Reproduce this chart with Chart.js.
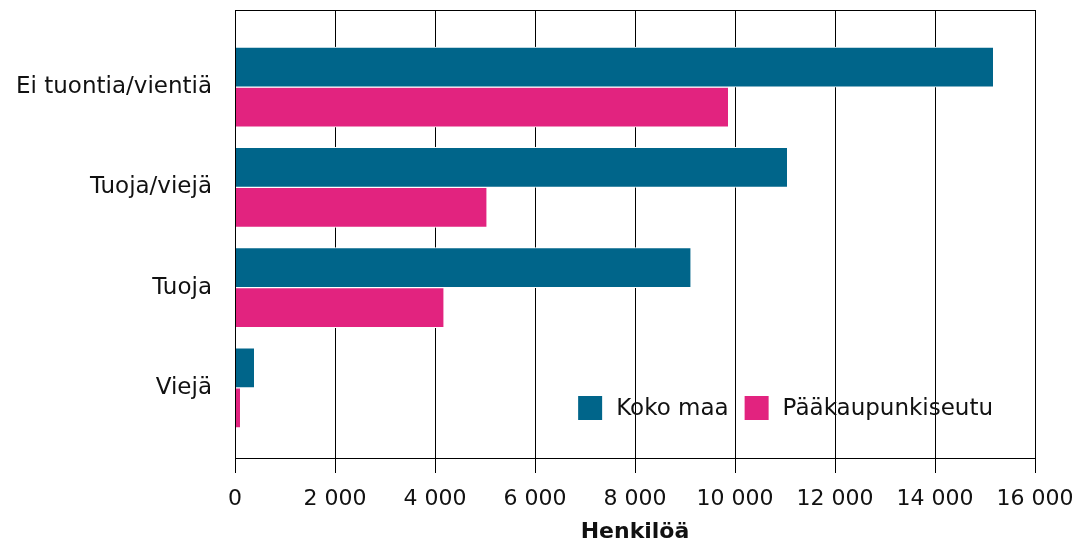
<!DOCTYPE html>
<html>
<head>
<meta charset="utf-8">
<script src="https://cdn.jsdelivr.net/npm/chart.js@4"></script>
<style>
  html, body { margin: 0; padding: 0; background: #fff; }
  #wrap { width: 1091px; height: 545px; }
</style>
</head>
<body>
<div id="wrap"><canvas id="myChart" width="1091" height="545"></canvas></div>
<script>
// data
const categories = ['Ei tuontia/vientiä', 'Tuoja/viejä', 'Tuoja', 'Viejä'];
const kokoMaa = [15160, 11040, 9110, 380];
const paakaupunkiseutu = [9860, 5030, 4170, 100];
const xTicks = [0, 2000, 4000, 6000, 8000, 10000, 12000, 14000, 16000];

const teal = '#00658a';
const pink = '#e2237f';
const font = 'DejaVu Sans';

function fmt(v) {
    return String(v).replace(/\B(?=(\d{3})+(?!\d))/g, ' ');
}

// box around the plot
const frame = {
    id: 'frame',
    afterDraw(chart) {
        const a = chart.chartArea;
        const c = chart.ctx;
        c.save();
        c.strokeStyle = '#000';
        c.lineWidth = 1;
        c.strokeRect(Math.round(a.left) + 0.5, Math.round(a.top) + 0.5,
            Math.round(a.right - a.left), Math.round(a.bottom - a.top));
        c.restore();
    }
};

// legend inside the plot, bottom right
const innerLegend = {
    id: 'innerLegend',
    afterDraw(chart) {
        const a = chart.chartArea;
        const c = chart.ctx;
        c.save();
        c.font = '23px "' + font + '"';
        c.textBaseline = 'middle';
        const items = chart.data.datasets.map(d => ({ label: d.label, color: d.backgroundColor }));
        let total = 0;
        items.forEach((it, i) => {
            it.w = c.measureText(it.label).width;
            total += 24 + 14 + it.w + (i < items.length - 1 ? 16 : 0);
        });
        let x = a.right - 42 - total;
        const y = a.bottom - 62;
        items.forEach(it => {
            c.fillStyle = it.color;
            c.fillRect(x, y, 24, 24);
            x += 24 + 14;
            c.fillStyle = '#111';
            c.fillText(it.label, x, y + 13);
            x += it.w + 16;
        });
        c.restore();
    }
};

const ctx = document.getElementById('myChart').getContext('2d');
const myChart = new Chart(ctx, {
    type: 'bar',
    data: {
        datasets: [
            {
                label: 'Koko maa',
                data: kokoMaa.map((v, i) => ({ x: v, y: i })),
                backgroundColor: teal,
                borderColor: '#fff',
                borderWidth: { top: 1, bottom: 1, left: 0, right: 0 },
                barThickness: 40
            },
            {
                label: 'Pääkaupunkiseutu',
                data: paakaupunkiseutu.map((v, i) => ({ x: v, y: i })),
                backgroundColor: pink,
                borderColor: '#fff',
                borderWidth: { top: 1, bottom: 1, left: 0, right: 0 },
                barThickness: 40
            }
        ]
    },
    options: {
        indexAxis: 'y',
        responsive: false,
        animation: false,
        layout: { padding: { top: 10, right: 56, left: 0, bottom: 0 } },
        scales: {
            x: {
                type: 'linear',
                position: 'bottom',
                min: 0,
                max: 16000,
                afterBuildTicks: s => { s.ticks = xTicks.map(v => ({ value: v })); },
                afterFit: s => { s.height = 87; s.paddingLeft = 0; s.paddingRight = 0; },
                grid: { color: '#000', lineWidth: 1, tickLength: 15 },
                border: { color: '#000' },
                ticks: {
                    color: '#111',
                    font: { family: font, size: 22 },
                    padding: 13,
                    maxRotation: 0,
                    callback: v => fmt(v)
                },
                title: {
                    display: true,
                    text: 'Henkilöä',
                    color: '#111',
                    font: { family: font, size: 22, weight: 'bold' },
                    padding: { top: 0, bottom: 0 }
                }
            },
            y: {
                type: 'linear',
                reverse: true,
                offset: false,
                min: -0.77,
                max: 3.7,
                afterBuildTicks: s => { s.ticks = categories.map((c, i) => ({ value: i })); },
                afterFit: s => { s.width = 235; s.paddingTop = 0; s.paddingBottom = 0; },
                grid: { display: false },
                border: { display: false },
                ticks: {
                    color: '#111',
                    font: { family: font, size: 23 },
                    padding: 15,
                    callback: v => categories[v]
                }
            }
        },
        plugins: {
            legend: { display: false },
            tooltip: { enabled: false }
        }
    },
    plugins: [frame, innerLegend]
});
</script>
</body>
</html>
